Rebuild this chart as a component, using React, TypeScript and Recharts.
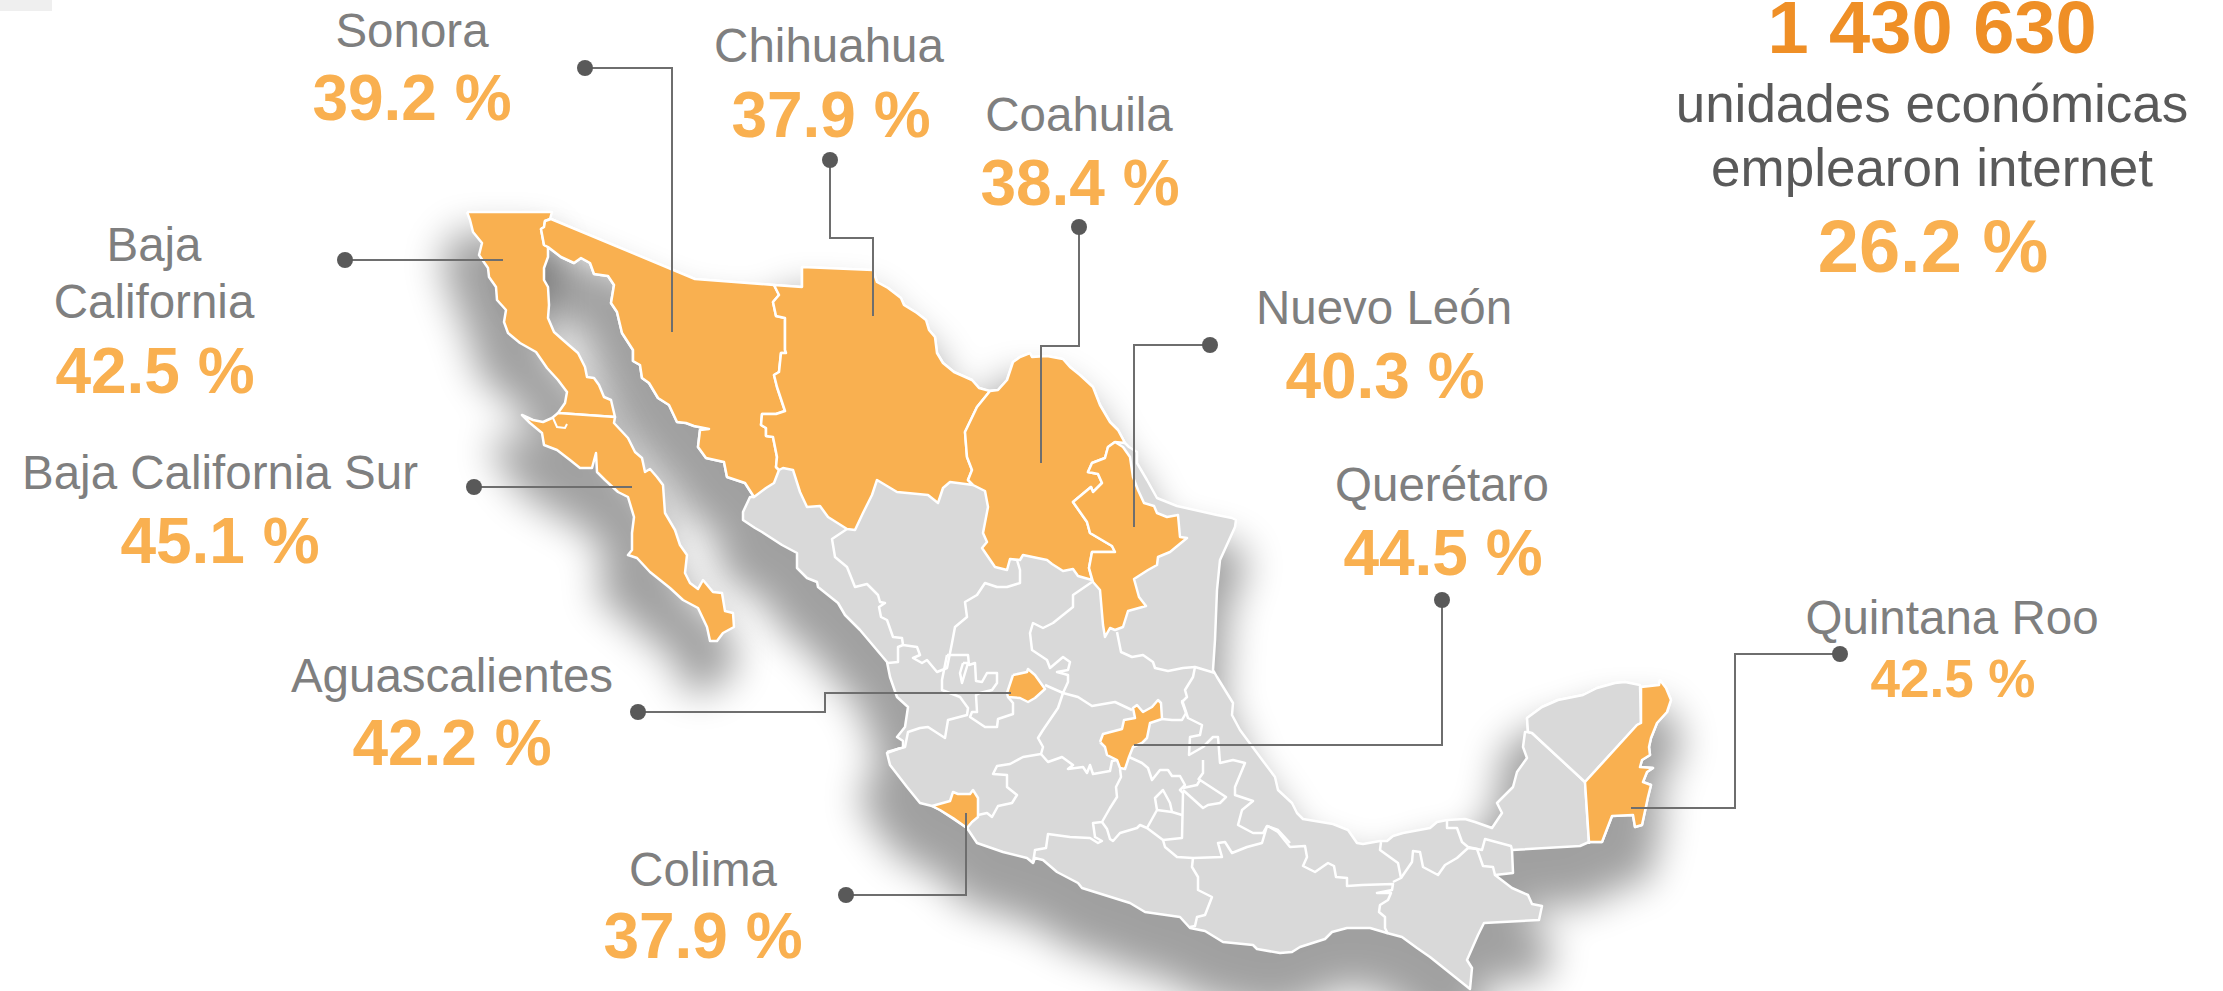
import React from 'react';
import { ScatterChart, Scatter, XAxis, YAxis } from 'recharts';

type P = [number, number];

// Map outlines (picture pixels serve as the data units)
const bcEast: P[] = [[467,212],[552,212],[550,219],[545,221],[544,227],[541,229],[544,245],[548,247],[548,257],[544,268],[544,280],[548,287],[549,305],[548,318],[554,332],[563,340],[578,353],[585,367],[587,377],[594,378],[599,385],[604,397],[611,400],[615,417]];
const bcWest: P[] = [[558,413],[565,403],[567,392],[558,380],[547,368],[536,352],[520,343],[508,333],[504,322],[506,310],[497,300],[496,287],[489,277],[488,268],[479,255],[482,243],[473,232],[470,220]];
const bcsCoast: P[] = [[614,423],[628,438],[635,452],[642,458],[645,472],[650,469],[657,477],[663,485],[665,513],[675,530],[680,545],[687,555],[685,573],[690,583],[698,589],[703,580],[713,592],[722,593],[725,611],[733,613],[734,627],[723,633],[717,641],[710,641],[707,627],[698,608],[683,600],[670,588],[650,572],[637,558],[628,555],[632,550],[632,533],[634,517],[628,497],[618,492],[605,480],[597,472],[596,453],[592,468],[580,468],[570,460],[557,450],[544,445],[542,433],[530,423],[522,415],[533,420],[543,422],[552,418]];
const sonora: P[] = [[551,219],[695,279],[774,285],[779,295],[773,302],[776,316],[785,318],[785,350],[786,353],[781,353],[779,372],[774,375],[777,387],[785,411],[776,414],[762,414],[761,425],[766,428],[766,436],[773,437],[777,457],[776,467],[779,470],[774,483],[766,488],[754,497],[745,483],[727,477],[724,462],[706,458],[698,447],[700,430],[709,429],[694,426],[686,423],[677,422],[669,405],[658,398],[649,383],[642,378],[640,365],[633,361],[633,350],[622,333],[617,312],[611,303],[614,285],[608,276],[594,274],[590,263],[581,258],[574,263],[561,257],[548,247],[544,245],[541,229],[544,227],[545,221]];
const chihuahua: P[] = [[802,267],[873,270],[877,282],[888,288],[901,298],[904,305],[917,313],[926,320],[929,330],[935,337],[937,353],[943,363],[954,372],[972,380],[979,388],[990,391],[977,407],[965,432],[967,457],[972,470],[968,480],[973,485],[950,482],[943,488],[938,503],[928,495],[897,492],[877,480],[872,495],[863,513],[855,530],[847,529],[828,517],[820,506],[807,507],[800,492],[793,470],[783,468],[779,470],[776,467],[777,457],[773,437],[766,436],[766,428],[761,425],[762,414],[776,414],[785,411],[777,387],[774,375],[779,372],[781,353],[786,353],[785,350],[785,318],[776,316],[773,302],[779,295],[774,285],[802,287]];
const coahuila: P[] = [[990,391],[998,390],[1007,380],[1013,362],[1020,357],[1030,353],[1032,357],[1047,356],[1063,359],[1070,367],[1080,375],[1093,387],[1100,405],[1110,422],[1118,430],[1125,443],[1115,442],[1108,447],[1105,458],[1092,463],[1088,472],[1098,474],[1102,483],[1093,492],[1091,487],[1073,502],[1087,522],[1090,533],[1112,546],[1115,552],[1092,552],[1089,568],[1092,580],[1078,576],[1073,569],[1063,571],[1052,564],[1047,560],[1023,555],[1020,560],[1010,559],[1007,570],[995,567],[982,548],[987,542],[983,533],[988,507],[985,491],[973,485],[968,480],[972,470],[967,457],[965,432],[977,407]];
const nuevoLeon: P[] = [[1115,442],[1123,447],[1130,457],[1133,477],[1138,490],[1144,503],[1154,506],[1157,513],[1167,517],[1178,515],[1180,537],[1187,538],[1170,552],[1158,557],[1157,565],[1148,570],[1134,579],[1139,597],[1146,606],[1128,611],[1123,627],[1115,630],[1110,628],[1105,637],[1103,625],[1100,590],[1093,582],[1089,568],[1092,552],[1115,552],[1112,546],[1090,533],[1087,522],[1073,502],[1091,487],[1093,492],[1102,483],[1098,474],[1088,472],[1092,463],[1105,458],[1108,447]];
const colima: P[] = [[932,806],[950,801],[953,792],[958,794],[970,794],[973,790],[978,798],[978,817],[972,822],[967,828],[953,818],[940,810]];
const aguascalientes: P[] = [[1013,675],[1027,672],[1028,669],[1035,675],[1040,682],[1045,689],[1035,698],[1028,702],[1020,698],[1008,697],[1007,693]];
const queretaro: P[] = [[1100,742],[1103,734],[1122,729],[1124,720],[1135,718],[1133,708],[1137,705],[1143,712],[1152,707],[1158,700],[1161,703],[1162,719],[1150,723],[1147,738],[1142,743],[1133,747],[1129,757],[1125,769],[1120,768],[1117,760],[1107,755],[1105,747]];
const quintanaRoo: P[] = [[1641,687],[1659,685],[1660,680],[1666,688],[1671,700],[1667,712],[1657,723],[1651,738],[1649,747],[1650,755],[1642,760],[1640,767],[1653,768],[1647,772],[1643,782],[1651,785],[1648,797],[1642,825],[1635,827],[1633,815],[1612,816],[1602,842],[1589,842],[1585,782],[1637,725],[1641,723]];
const pacificCoast: P[] = [[754,497],[750,497],[743,512],[743,520],[755,528],[762,532],[782,545],[797,553],[797,568],[807,578],[817,582],[818,587],[838,603],[845,615],[860,630],[887,662],[890,677],[897,697],[908,707],[905,727],[897,737],[903,741],[903,747],[887,753],[890,765],[907,787],[920,803],[932,806],[940,810],[967,828],[977,843],[1003,852],[1027,858],[1033,863],[1035,858],[1043,860],[1057,872],[1078,883],[1082,888],[1130,903],[1145,912],[1180,917],[1190,928],[1205,931],[1223,942],[1253,945],[1257,949],[1280,953],[1292,952],[1300,947],[1325,939],[1332,932],[1347,928],[1370,928],[1387,933],[1402,937],[1417,948],[1430,957],[1470,989],[1472,968],[1467,960],[1478,935],[1484,923],[1539,920],[1542,906],[1532,904],[1528,895],[1512,888],[1495,875],[1513,873],[1512,850],[1580,846],[1589,842]];
const caribbeanCoast: P[] = [[1602,842],[1612,816],[1633,815],[1635,827],[1642,825],[1648,797],[1651,785],[1643,782],[1647,772],[1653,768],[1640,767],[1642,760],[1650,755],[1649,747],[1651,738],[1657,723],[1667,712],[1671,700],[1666,688],[1660,680],[1659,685],[1641,687]];
const gulfCoast: P[] = [[1625,682],[1615,683],[1597,688],[1583,695],[1558,700],[1542,707],[1527,718],[1528,732],[1525,732],[1523,747],[1527,758],[1517,772],[1513,787],[1497,803],[1502,813],[1492,828],[1475,822],[1465,819],[1447,820],[1437,822],[1430,828],[1403,833],[1393,836],[1387,841],[1380,841],[1363,844],[1357,843],[1348,830],[1333,824],[1303,819],[1297,813],[1292,803],[1278,790],[1275,777],[1260,757],[1240,730],[1232,715],[1233,703],[1217,677],[1213,670],[1215,640],[1217,590],[1220,560],[1235,527],[1236,520],[1232,518],[1217,515],[1177,506],[1157,498],[1147,480],[1137,463],[1137,452],[1129,447],[1125,443]];
const northRim: P[] = [[1118,430],[1110,422],[1100,405],[1093,387],[1080,375],[1070,367],[1063,359],[1047,356],[1032,357],[1030,353],[1020,357],[1013,362],[1007,380],[998,390],[988,391],[979,388],[972,380],[954,372],[943,363],[937,353],[935,337],[929,330],[926,320],[917,313],[904,305],[901,298],[888,288],[877,282],[873,270],[802,267],[802,287],[774,285],[695,279],[551,219],[545,221],[544,227],[541,229],[544,245],[548,247],[561,257],[574,263],[581,258],[590,263],[594,274],[608,276],[614,285],[611,303],[617,312],[622,333],[633,350],[633,361],[640,365],[642,378],[649,383],[658,398],[669,405],[677,422],[686,423],[694,426],[709,429],[700,430],[698,447],[706,458],[724,462],[727,477],[745,483]];
const yucatan: P[] = [[1527,718],[1542,707],[1558,700],[1583,695],[1597,688],[1615,683],[1625,682],[1640,685],[1641,723],[1637,725],[1585,782],[1532,733],[1528,732]];

const stateBorders: P[][] = [
  [[847,529],[832,539],[835,557],[847,567],[855,587],[867,584],[878,595],[880,602],[885,603],[879,607],[881,617],[887,620],[893,637],[902,638],[903,645],[898,647],[898,662],[888,663]],
  [[903,645],[917,647],[920,655],[913,658],[922,663],[927,660],[937,672],[947,668],[952,643],[955,627],[967,617],[965,602],[977,595],[985,583],[997,587],[1007,587],[1020,583],[1020,570],[1017,560],[1010,558]],
  [[947,655],[968,655],[969,665],[975,663],[976,681],[982,682],[987,673],[997,673],[997,683],[992,690],[980,693],[976,695],[977,712],[972,712],[970,717],[985,727],[997,727],[998,719],[1013,714],[1013,703],[1008,697]],
  [[947,655],[942,680],[942,690],[960,697],[968,708],[967,715],[948,720],[945,738],[928,727],[920,728],[908,732],[905,747],[887,752]],
  [[963,663],[968,663],[962,683],[960,673],[963,663]],
  [[1092,582],[1073,595],[1073,607],[1053,623],[1043,628],[1033,623],[1030,633],[1032,650],[1047,660],[1050,668],[1063,657],[1070,662],[1068,670],[1057,672],[1068,675],[1068,682],[1063,693],[1045,685]],
  [[1063,693],[1058,708],[1043,730],[1038,738],[1043,747],[1041,754],[1023,757],[1010,764],[997,766],[993,774],[1007,775],[1007,787],[1017,795],[1012,803],[998,806],[992,817],[987,813],[978,815]],
  [[1041,754],[1048,762],[1062,757],[1073,765],[1068,769],[1083,767],[1087,773],[1090,765],[1093,774],[1110,771],[1112,761],[1117,760]],
  [[1063,693],[1078,697],[1092,706],[1115,702],[1132,710]],
  [[1162,719],[1172,720],[1182,720],[1186,713],[1182,702],[1187,697],[1185,690],[1193,677],[1195,667],[1215,673]],
  [[1182,700],[1188,718],[1202,725],[1200,735],[1190,737],[1189,755],[1203,747],[1213,737],[1218,737],[1220,763],[1233,760],[1245,763],[1235,787],[1235,795],[1253,801],[1242,810],[1238,825],[1253,833],[1263,833],[1267,826],[1278,830],[1290,843]],
  [[1117,632],[1121,652],[1132,657],[1143,655],[1153,662],[1155,668],[1168,671],[1183,668],[1195,667]],
  [[1129,757],[1142,763],[1148,768],[1152,780],[1160,770],[1168,770],[1172,776],[1180,776],[1185,785],[1180,790],[1183,793],[1182,838],[1163,840]],
  [[1120,769],[1121,777],[1116,787],[1117,797],[1110,808],[1102,822],[1093,823],[1095,837],[1102,841],[1098,843],[1090,838],[1070,837],[1048,834],[1046,848],[1035,850],[1033,863]],
  [[1102,822],[1107,829],[1110,839],[1113,841],[1120,833],[1137,828],[1140,825],[1147,828],[1163,840],[1165,847],[1177,857],[1193,858],[1222,857],[1218,843],[1225,842],[1232,853],[1247,847],[1262,843],[1267,826]],
  [[1147,828],[1157,810],[1155,798],[1163,790],[1170,803],[1172,812],[1182,815]],
  [[1157,810],[1172,812]],
  [[1183,790],[1203,808],[1208,805],[1220,803],[1226,797],[1200,780],[1197,785],[1183,788]],
  [[1198,780],[1203,773],[1203,760]],
  [[1193,858],[1192,867],[1198,877],[1198,890],[1212,897],[1205,915],[1197,917],[1195,926],[1190,927]],
  [[1268,826],[1278,832],[1290,847],[1305,846],[1307,857],[1303,866],[1315,872],[1328,863],[1334,866],[1336,877],[1347,878],[1347,886],[1362,885],[1393,884],[1392,890],[1377,893],[1391,893],[1388,900],[1380,905],[1379,912],[1385,917],[1385,928],[1388,934]],
  [[1381,842],[1380,850],[1398,863],[1401,878],[1393,882]],
  [[1401,878],[1412,862],[1413,851],[1420,852],[1423,867],[1438,875],[1445,865],[1457,858],[1468,848],[1477,849],[1483,866],[1493,867],[1495,875]],
  [[1447,820],[1447,828],[1457,828],[1462,842],[1468,847],[1482,850],[1485,839],[1511,846],[1512,850]],
  [[1528,732],[1532,733],[1585,782],[1589,844]],
];
const lagoon: P[] = [[553,418],[557,427],[565,428],[567,424]];
const cornerBox: P[] = [[0,0],[52,0],[52,11],[0,11]];

const leaderLines: P[][] = [
  [[585,68],[672,68],[672,332]],
  [[345,260],[503,260]],
  [[830,160],[830,238],[873,238],[873,316]],
  [[1079,227],[1079,346],[1041,346],[1041,463]],
  [[1210,345],[1134,345],[1134,527]],
  [[474,487],[632,487]],
  [[638,712],[825,712],[825,693],[1011,693]],
  [[846,895],[966,895],[966,813]],
  [[1442,600],[1442,745],[1134,745]],
  [[1840,654],[1735,654],[1735,808],[1631,808]],
];
const stateNames = [
  { text: 'Sonora', x: 412, y: 47 },
  { text: 'Baja', x: 154, y: 261 },
  { text: 'California', x: 154, y: 318 },
  { text: 'Chihuahua', x: 829, y: 62 },
  { text: 'Coahuila', x: 1079, y: 131 },
  { text: 'Nuevo León', x: 1384, y: 324 },
  { text: 'Baja California Sur', x: 220, y: 489 },
  { text: 'Querétaro', x: 1442, y: 501 },
  { text: 'Aguascalientes', x: 452, y: 692 },
  { text: 'Colima', x: 703, y: 886 },
  { text: 'Quintana Roo', x: 1952, y: 634 },
];
const statePercents = [
  { text: '39.2 %', x: 412, y: 120 },
  { text: '42.5 %', x: 155, y: 393 },
  { text: '37.9 %', x: 831, y: 137 },
  { text: '38.4 %', x: 1080, y: 205 },
  { text: '40.3 %', x: 1385, y: 398 },
  { text: '45.1 %', x: 220, y: 563 },
  { text: '44.5 %', x: 1443, y: 575 },
  { text: '42.2 %', x: 452, y: 765 },
  { text: '37.9 %', x: 703, y: 958 },
];
const smallPercent = [{ text: '42.5 %', x: 1953, y: 697 }];
const headline = [{ text: '1 430 630', x: 1932, y: 53 }];
const subline = [
  { text: 'unidades económicas', x: 1932, y: 122 },
  { text: 'emplearon internet', x: 1932, y: 186 },
];
const nationalPercent = [{ text: '26.2 %', x: 1933, y: 272 }];

const ORANGE = '#F9B050';
const GREY = '#D9D9D9';
const toPoints = (pts: P[]) => pts.map(([x, y]) => ({ x, y }));
const closed = (pts: P[]) => toPoints([...pts, pts[0]]);
const noMark = () => <g />;

const mainland: P[] = [...pacificCoast, ...caribbeanCoast, ...gulfCoast, ...northRim];
const peninsula: P[] = [...bcEast, ...bcsCoast, ...bcWest];
const bajaNorth: P[] = [...bcEast, ...bcWest];
const bajaSur: P[] = [[558,413],[615,417],...bcsCoast];

const textShape = (fontSize: number, fill: string, bold: boolean) => (props: any) => (
  <text
    x={props.cx}
    y={props.cy}
    textAnchor="middle"
    fontFamily="'Liberation Sans', Arial, sans-serif"
    fontSize={fontSize}
    fontWeight={bold ? 700 : 400}
    fill={fill}
  >
    {props.payload.text}
  </text>
);

const shadows = [
  { pts: mainland, spread: 36, style: { filter: 'blur(19px)', transform: 'translate(-8px, 42px)' } },
  { pts: peninsula, spread: 32, style: { filter: 'blur(19px)', transform: 'translate(-14px, 36px)' } },
];

export default function App() {
  const shapes = (pts: P[], fill: string, key: string, strokeWidth = 2.5) => (
    <Scatter
      key={key}
      data={closed(pts)}
      shape={noMark}
      line={{ fill, stroke: '#fff', strokeWidth, strokeLinejoin: 'round' }}
      isAnimationActive={false}
    />
  );
  return (
    <div style={{ position: 'absolute', left: 0, top: 0, width: 2223, height: 991, overflow: 'hidden' }}>
      <ScatterChart width={2223} height={991} margin={{ top: 0, right: 0, bottom: 0, left: 0 }}>
        <XAxis type="number" dataKey="x" domain={[0, 2223]} hide />
        <YAxis type="number" dataKey="y" domain={[0, 991]} reversed hide />
        <Scatter
          data={closed(cornerBox)}
          shape={noMark}
          line={{ fill: '#EFEFEF', stroke: 'none' }}
          isAnimationActive={false}
        />
        {shadows.map((s, i) => (
          <Scatter
            key={`shadow${i}`}
            data={closed(s.pts)}
            shape={noMark}
            line={{ fill: '#000', stroke: '#000', strokeWidth: s.spread, strokeLinejoin: 'round', opacity: 0.37, style: s.style }}
            isAnimationActive={false}
          />
        ))}
        {shapes(mainland, GREY, 'mainland')}
        {stateBorders.map((pts, i) => (
          <Scatter
            key={`border${i}`}
            data={toPoints(pts)}
            shape={noMark}
            line={{ fill: 'none', stroke: '#fff', strokeWidth: 2.5, strokeLinejoin: 'round' }}
            isAnimationActive={false}
          />
        ))}
        {shapes(yucatan, GREY, 'yucatan')}
        {shapes(bajaNorth, ORANGE, 'bc')}
        {shapes(bajaSur, ORANGE, 'bcs')}
        {shapes(sonora, ORANGE, 'son')}
        {shapes(chihuahua, ORANGE, 'chi')}
        {shapes(coahuila, ORANGE, 'coa')}
        {shapes(nuevoLeon, ORANGE, 'nl')}
        {shapes(colima, ORANGE, 'col')}
        {shapes(aguascalientes, ORANGE, 'ags')}
        {shapes(queretaro, ORANGE, 'qro')}
        {shapes(quintanaRoo, ORANGE, 'qroo')}
        <Scatter
          data={toPoints(lagoon)}
          shape={noMark}
          line={{ fill: 'none', stroke: '#fff', strokeWidth: 2 }}
          isAnimationActive={false}
        />
        {leaderLines.map((pts, i) => (
          <Scatter
            key={`leader${i}`}
            data={toPoints(pts)}
            shape={noMark}
            line={{ fill: 'none', stroke: '#6E6E6E', strokeWidth: 2 }}
            isAnimationActive={false}
          />
        ))}
        <Scatter
          data={leaderLines.map((pts) => ({ x: pts[0][0], y: pts[0][1] }))}
          shape={(p: any) => <circle cx={p.cx} cy={p.cy} r={8} fill="#595959" />}
          isAnimationActive={false}
        />
        <Scatter data={stateNames} shape={textShape(47.5, '#7F7F7F', false)} isAnimationActive={false} />
        <Scatter data={statePercents} shape={textShape(64, ORANGE, true)} isAnimationActive={false} />
        <Scatter data={smallPercent} shape={textShape(53, ORANGE, true)} isAnimationActive={false} />
        <Scatter data={headline} shape={textShape(74, '#EF8F26', true)} isAnimationActive={false} />
        <Scatter data={subline} shape={textShape(53, '#595959', false)} isAnimationActive={false} />
        <Scatter data={nationalPercent} shape={textShape(74, ORANGE, true)} isAnimationActive={false} />
      </ScatterChart>
    </div>
  );
}
